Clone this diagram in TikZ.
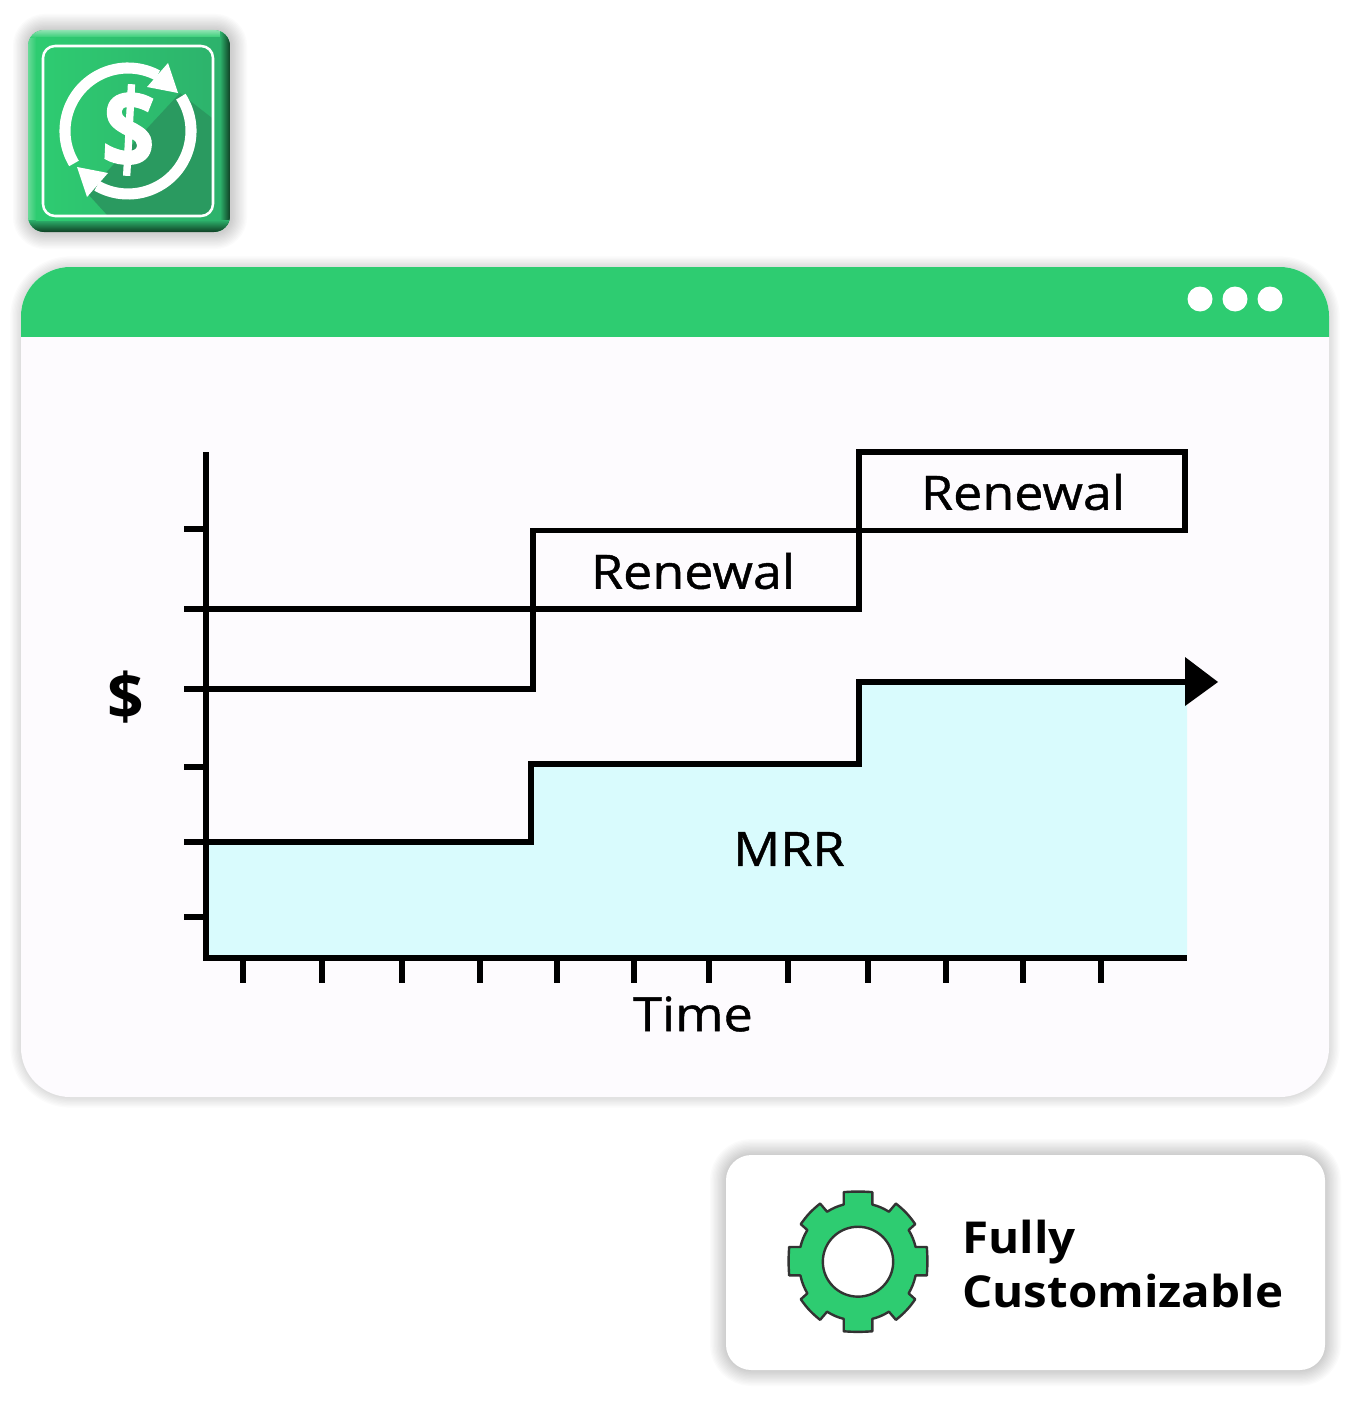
\documentclass[tikz,border=0pt]{standalone}
\usepackage{fontspec}
\setmainfont{Open Sans}
\newfontfamily\lblfont[FakeBold=0.9,FakeStretch=1.1]{Open Sans}
\newfontfamily\cardfont[FakeStretch=1.08]{Open Sans Bold}
\newfontfamily\icondollarfont[FakeBold=1.2]{Open Sans Bold}
\usetikzlibrary{calc}
\definecolor{hdr}{HTML}{2ECC71}
\definecolor{winbg}{HTML}{FDFBFE}
\definecolor{mrr}{HTML}{D9FBFD}
\definecolor{iconA}{HTML}{2ECC71}
\definecolor{iconB}{HTML}{2DB26C}
\definecolor{iconShadow}{HTML}{2A9A60}
\definecolor{iconDark}{HTML}{0F3F24}
\definecolor{iconLight}{HTML}{8FE3B2}
\definecolor{gearline}{HTML}{333333}
\tikzset{
  chartline/.style={draw=black,line width=4.1pt,line cap=butt,line join=miter},
  tickline/.style={draw=black,line width=4.1pt},
  lbl/.style={font=\fontsize{35.5pt}{35.5pt}\lblfont,text=black,inner sep=0pt,anchor=center},
  cardlbl/.style={font=\fontsize{33pt}{40pt}\cardfont,text=black,inner sep=0pt},
  softshadow/.style={draw=black,draw opacity=0.014,fill=none,line width=#1},
}
\begin{document}
\begin{tikzpicture}[x=0.75pt,y=-0.75pt]
\useasboundingbox (0,0) rectangle (1350,1409);
\fill[white] (0,0) rectangle (1350,1409);

% ---------- app icon ----------
\foreach \w in {2,4,...,24}
  \draw[softshadow=\w pt,rounded corners=12pt] (29,30) rectangle (231,233);
\begin{scope}
  \clip[rounded corners=12pt] (28,30) rectangle (230,232);
  \fill[iconB] (28,30) rectangle (230,232);
  \shade[left color=iconLight!60!iconA,right color=iconA] (28,30) rectangle (36,232);
  \shade[top color=iconLight,bottom color=iconA] (28,30) rectangle (230,38);
  \shade[left color=iconB,right color=iconDark] (220,30) rectangle (230,232);
  \shade[top color=iconB,bottom color=iconDark] (28,220) rectangle (230,232);
\end{scope}
\shade[left color=iconA,right color=iconB] (36,38) rectangle (220,220);
\begin{scope}
  \clip[rounded corners=9pt] (43,46) rectangle (214,216);
  \fill[iconShadow] (180,93) -- (212,118) -- (214,216) -- (108,216) -- (87,193) -- cycle;
\end{scope}
\draw[white,line width=1.9pt,rounded corners=9pt] (43,46) rectangle (213,216);
% ring arcs
\coordinate (ringc) at (128,131);
\draw[white,line width=8.3pt] ($(ringc)+(149:63 and 63)$) arc[start angle=211,end angle=62,x radius=63,y radius=-63];
\draw[white,line width=8.3pt] ($(ringc)+(-33:63 and 63)$) arc[start angle=33,end angle=-119.5,x radius=63,y radius=-63];
\fill[white] (168,63) -- (178,93) -- (147,87) -- cycle;
\fill[white] (77,167) -- (108,173) -- (87,197) -- cycle;
\node[font=\fontsize{83pt}{83pt}\icondollarfont,text=white,rotate=-3,xscale=0.84,inner sep=0pt] (icondollar) at (129,130) {\$};

% ---------- window ----------
\foreach \w in {2,4,...,16}
  \draw[softshadow=\w pt,rounded corners=37pt] (21,267) rectangle (1329,1097);
\fill[winbg,rounded corners=37pt] (21,267) rectangle (1329,1097);
\begin{scope}
  \clip (0,0) rectangle (1350,336);
  \fill[hdr,rounded corners=37pt] (21,267) rectangle (1329,500);
\end{scope}
\foreach \x in {1200,1235,1270}
  \fill[white] (\x,299) circle[radius=12.5];

% ---------- chart ----------
\fill[mrr] (206,842) -- (531,842) -- (531,764) -- (859,764) -- (859,682) -- (1187,682) -- (1187,958) -- (206,958) -- cycle;
\foreach \y in {529,609,689,767,842,917}
  \draw[tickline] (184,\y) -- (206,\y);
\foreach \x in {243,322,402,480,557,634,709,788,868,946,1023,1101}
  \draw[tickline] (\x,958) -- (\x,983);
\draw[chartline] (206,452) -- (206,960.5);
\draw[chartline] (203,958) -- (1187,958);
\draw[chartline] (206,689) -- (533,689) -- (533,530.5) -- (859,530.5) -- (859,452) -- (1185,452) -- (1185,530.5) -- (859,530.5);
\draw[chartline] (206,609) -- (859,609) -- (859,530.5);
\draw[chartline] (206,842) -- (531,842) -- (531,764) -- (859,764) -- (859,682) -- (1190,682);
\fill[black] (1185,657) -- (1218,682) -- (1185,706) -- cycle;
\node[lbl] (ren1) at (1023,492) {Renewal};
\node[lbl] (ren2) at (693,571) {Renewal};
\node[lbl] (mrrlabel) at (789,849) {MRR};
\node[lbl] (timelabel) at (693,1014) {Time};
\node[font=\fontsize{48pt}{48pt}\bfseries\selectfont,inner sep=0pt] (dollar) at (126,697) {\$};

% ---------- card ----------
\foreach \w in {2,4,...,24}
  \draw[softshadow=\w pt,rounded corners=19pt] (726,1155) rectangle (1325,1370);
\fill[white,rounded corners=19pt] (726,1155) rectangle (1325,1370);
\begin{scope}[shift={(858,1261.7)},x=0.29pt,y=-0.245pt]
  \draw[fill=hdr,draw=gearline,line width=1.8pt,line join=round,even odd rule]
    (-37,-213) to[bend left=4] (37,-213) -- (37,-175) to[bend left=8] (80,-153) -- (98,-178)
    to[bend left=8] (148,-115) -- (131,-97) to[bend left=8] (149,-45) -- (178,-45)
    to[bend left=4] (178,42) -- (149,42) to[bend left=8] (131,97) -- (148,115)
    to[bend left=8] (98,178) -- (80,153) to[bend left=8] (37,175) -- (37,213)
    to[bend left=4] (-37,213) -- (-37,175) to[bend left=8] (-80,153) -- (-98,178)
    to[bend left=8] (-148,115) -- (-131,97) to[bend left=8] (-149,42) -- (-178,42)
    to[bend left=4] (-178,-45) -- (-149,-45) to[bend left=8] (-131,-97) -- (-148,-115)
    to[bend left=8] (-98,-178) -- (-80,-153) to[bend left=8] (-37,-175) -- cycle
    (0,0) circle[x radius=91,y radius=107];
\end{scope}
\node[cardlbl,anchor=base west] (fully) at (962,1253) {Fully};
\node[cardlbl,anchor=base west] (custom) at (962,1307) {Customizable};
\end{tikzpicture}
\end{document}
